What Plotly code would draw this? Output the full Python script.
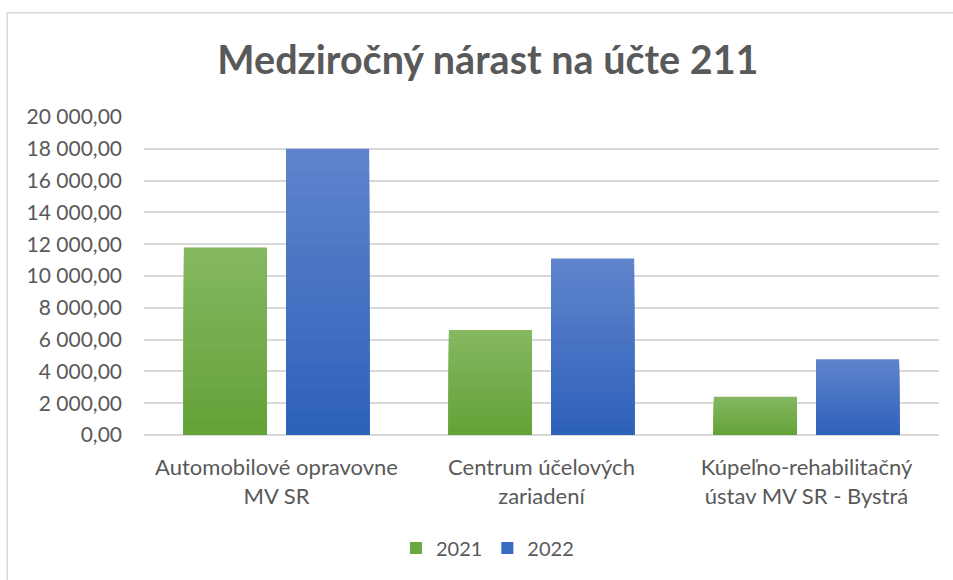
import plotly.graph_objects as go

categories = ["Automobilové opravovne<br>MV SR",
              "Centrum účelových<br>zariadení",
              "Kúpeľno-rehabilitačný<br>ústav MV SR - Bystrá"]
series_names = ["2021", "2022"]
values_2021 = [11800, 6600, 2400]
values_2022 = [18000, 11100, 4770]
tick_vals = [0, 2000, 4000, 6000, 8000, 10000, 12000, 14000, 16000, 18000, 20000]

# style: gradient (top light -> bottom dark), legend swatch colour
styles = {
    "2021": {"top": (0x85, 0xB8, 0x62), "bottom": (0x63, 0xA2, 0x37), "legend": "#6AA840"},
    "2022": {"top": (0x60, 0x84, 0xCD), "bottom": (0x2D, 0x61, 0xB9), "legend": "#3A6BC3"},
}
N_BANDS = 24

def mix(c1, c2, t):
    return "rgb(%d,%d,%d)" % tuple(round(a + (b - a) * t) for a, b in zip(c1, c2))

fig = go.Figure()
for name, vals in zip(series_names, [values_2021, values_2022]):
    st = styles[name]
    # layered bars: full bar in the top colour first, then shorter, darker
    # bars drawn over it, giving a vertical gradient without seams
    for k in range(N_BANDS, 0, -1):
        t = (k - 0.5) / N_BANDS
        color = mix(st["bottom"], st["top"], t)
        fig.add_trace(go.Bar(
            x=categories,
            y=[v * k / N_BANDS for v in vals],
            offsetgroup=name,
            name=name,
            legendgroup=name,
            showlegend=False,
            marker=dict(color=color, line=dict(width=0)),
            hoverinfo="skip",
        ))
    # legend entry
    fig.add_trace(go.Bar(
        x=categories, y=[0 for _ in vals],
        offsetgroup=name, name=name, legendgroup=name, showlegend=True,
        marker=dict(color=st["legend"], line=dict(width=0)),
        hoverinfo="skip",
    ))

font = "Lato, 'Open Sans', sans-serif"
txt = "#595959"

fig.update_layout(
    width=953, height=580,
    margin=dict(l=144, r=14, t=117, b=143),
    paper_bgcolor="white", plot_bgcolor="white",
    barmode="group", bargap=0.229, bargroupgap=0.186,
    separators=", ",
    font=dict(family=font, color=txt, size=20),
    title=dict(text="<b>Medziročný nárast na účte 211</b>",
               x=0.512, xanchor="center", y=0.896, yanchor="middle",
               font=dict(family=font, size=39.5, color=txt)),
    xaxis=dict(showgrid=False, showline=False, ticks="", tickfont=dict(size=22, color=txt),
               ticklabelstandoff=17),
    yaxis=dict(range=[0, 20000], tickvals=tick_vals, tickformat=",.2f",
               showgrid=True, gridcolor="#D9D9D9", gridwidth=1.5,
               zeroline=True, zerolinecolor="#D9D9D9", zerolinewidth=1.5,
               showline=False, ticks="", tickfont=dict(size=21, color=txt),
               ticklabelstandoff=21),
    legend=dict(orientation="h", x=0.432, xanchor="center", y=-0.355, yanchor="middle",
                font=dict(size=20, color=txt), traceorder="normal",
                itemwidth=30),
    shapes=[dict(type="rect", xref="paper", yref="paper",
                 x0=-0.172, x1=1.03, y0=-0.6, y1=1.3276,
                 line=dict(color="#D9D9D9", width=1.5), fillcolor="rgba(0,0,0,0)",
                 layer="below")],
)

fig.write_html("out.html", config={"displayModeBar": False},
               post_script="document.body.style.margin='0';")
